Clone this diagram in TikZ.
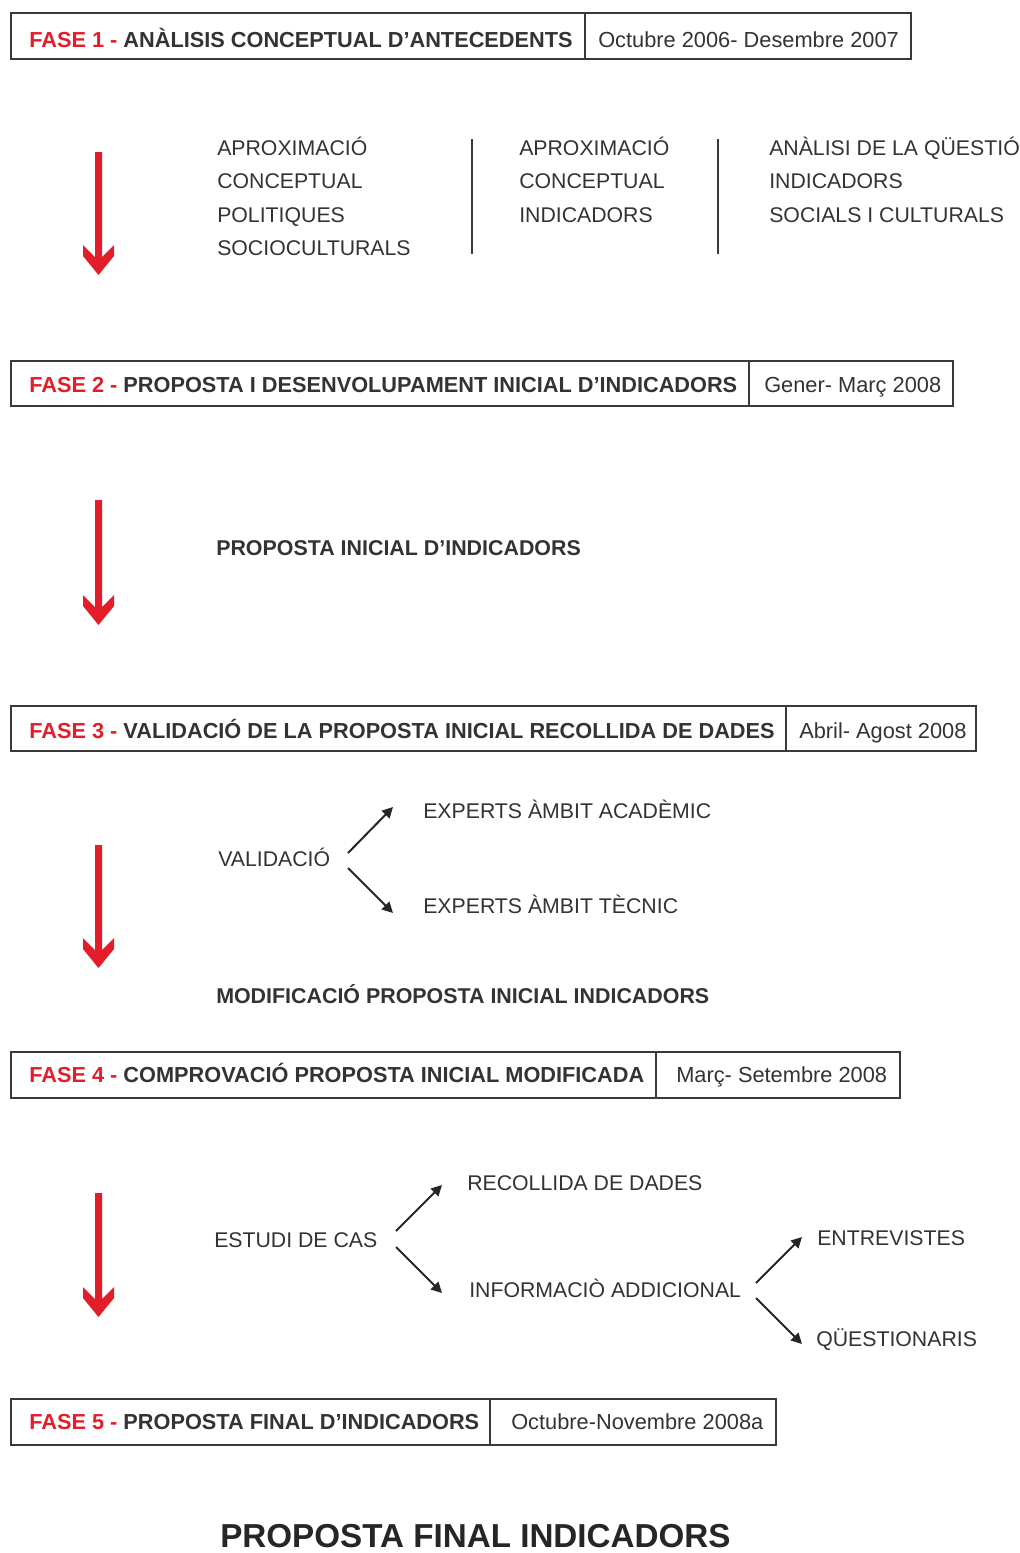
\documentclass[tikz,border=0pt]{standalone}
\usepackage{fontspec}
\setmainfont{Liberation Sans}
\usetikzlibrary{arrows.meta}
\definecolor{flowred}{HTML}{E31E2A}
\definecolor{ink}{HTML}{333333}
\definecolor{rulecol}{HTML}{3A3A3A}

% thick red downward arrow with a notched head: x centre, top, tip
\newcommand\phasearrow[3]{%
  \fill[flowred] (#1-3.5,#2) -- (#1+3.5,#2) -- (#1+3.5,#3-18) -- (#1+15.5,#3-30)
    -- (#1+15.5,#3-19) -- (#1,#3) -- (#1-15.5,#3-19) -- (#1-15.5,#3-30)
    -- (#1-3.5,#3-18) -- cycle;}

\begin{document}
\begin{tikzpicture}[x=0.75pt,y=-0.75pt,
  txt/.style={anchor=base west, inner sep=0pt, text=ink, font=\fontsize{15.95}{19}\selectfont},
  boldtxt/.style={anchor=base west, inner sep=0pt, text=ink, font=\fontsize{16.05}{19}\selectfont\bfseries},
  head/.style={anchor=base west, inner sep=0pt, text=ink, font=\fontsize{16.3}{19}\selectfont\bfseries},
  datetxt/.style={anchor=base west, inner sep=0pt, text=ink, font=\fontsize{16.35}{19}\selectfont},
  title/.style={anchor=base west, inner sep=0pt, text=black!85, font=\fontsize{24.9}{28}\selectfont\bfseries},
  cellbox/.style={draw=rulecol, line width=1.5pt},
  sepline/.style={draw=rulecol, line width=1.5pt},
  branch/.style={draw=black!85, line width=1.5pt, -{Triangle[length=8pt,width=8pt]}},
]
\fill[white] (0,0) rectangle (1020,1553);
\useasboundingbox (0,0) rectangle (1020,1553);

% ---------- phase header boxes ----------
\draw[cellbox] (11,13) rectangle (911,59);
\draw[sepline] (585,13) -- (585,59);
\node[head] (f1) at (29,47) {\textcolor{flowred}{FASE 1 -} ANÀLISIS CONCEPTUAL D’ANTECEDENTS};
\node[datetxt] (d1) at (598,47) {Octubre 2006- Desembre 2007};

\draw[cellbox] (11,361) rectangle (953,406);
\draw[sepline] (749,361) -- (749,406);
\node[head] (f2) at (29,392) {\textcolor{flowred}{FASE 2 -} PROPOSTA I DESENVOLUPAMENT INICIAL D’INDICADORS};
\node[datetxt] (d2) at (764,392) {Gener- Març 2008};

\draw[cellbox] (11,706) rectangle (976,751);
\draw[sepline] (786,706) -- (786,751);
\node[head] (f3) at (29,738) {\textcolor{flowred}{FASE 3 -} VALIDACIÓ DE LA PROPOSTA INICIAL RECOLLIDA DE DADES};
\node[datetxt] (d3) at (799,738) {Abril- Agost 2008};

\draw[cellbox] (11,1052) rectangle (900,1098);
\draw[sepline] (656,1052) -- (656,1098);
\node[head] (f4) at (29,1082) {\textcolor{flowred}{FASE 4 -} COMPROVACIÓ PROPOSTA INICIAL MODIFICADA};
\node[datetxt] (d4) at (676,1082) {Març- Setembre 2008};

\draw[cellbox] (11,1399) rectangle (776,1445);
\draw[sepline] (490,1399) -- (490,1445);
\node[head] (f5) at (29,1429) {\textcolor{flowred}{FASE 5 -} PROPOSTA FINAL D’INDICADORS};
\node[datetxt] (d5) at (511,1429) {Octubre-Novembre 2008a};

% ---------- red flow arrows ----------
\phasearrow{98.5}{152}{275}
\phasearrow{98.5}{500}{625}
\phasearrow{98.5}{845}{968}
\phasearrow{98.5}{1193}{1317}

% ---------- phase 1 ----------
\node[txt] (c1a) at (217,155) {APROXIMACIÓ};
\node[txt] (c1b) at (217,188.5) {CONCEPTUAL};
\node[txt] (c1c) at (217,222) {POLITIQUES};
\node[txt] (c1d) at (217,255) {SOCIOCULTURALS};
\draw[sepline] (472,139) -- (472,254);
\node[txt] (c2a) at (519,155) {APROXIMACIÓ};
\node[txt] (c2b) at (519,188.5) {CONCEPTUAL};
\node[txt] (c2c) at (519,222) {INDICADORS};
\draw[sepline] (718,139) -- (718,254);
\node[txt] (c3a) at (769,155) {ANÀLISI DE LA QÜESTIÓ};
\node[txt] (c3b) at (769,188.5) {INDICADORS};
\node[txt] (c3c) at (769,222) {SOCIALS I CULTURALS};

% ---------- phase 2 ----------
\node[boldtxt] (p2) at (216,555) {PROPOSTA INICIAL D’INDICADORS};

% ---------- phase 3 ----------
\node[txt] (val) at (218,866) {VALIDACIÓ};
\node[txt] (acad) at (423,818) {EXPERTS ÀMBIT ACADÈMIC};
\node[txt] (tecn) at (423,913) {EXPERTS ÀMBIT TÈCNIC};
\coordinate (valup) at (348,853);
\coordinate (valdn) at (348,868);
\coordinate (acadin) at (393,807);
\coordinate (tecnin) at (393,913);
\draw[branch] (valup) -- (acadin);
\draw[branch] (valdn) -- (tecnin);
\node[boldtxt] (modif) at (216,1003) {MODIFICACIÓ PROPOSTA INICIAL INDICADORS};

% ---------- phase 4 ----------
\node[txt] (cas) at (214,1247) {ESTUDI DE CAS};
\node[txt] (recol) at (467,1190) {RECOLLIDA DE DADES};
\node[txt] (info) at (469,1297) {INFORMACIÒ ADDICIONAL};
\node[txt] (entr) at (817,1245) {ENTREVISTES};
\node[txt] (qest) at (816,1346) {QÜESTIONARIS};
\coordinate (casup) at (396,1231);
\coordinate (casdn) at (396,1247);
\coordinate (recolin) at (442,1185);
\coordinate (infoin) at (442,1293);
\coordinate (infoup) at (756,1283);
\coordinate (infodn) at (756,1298);
\coordinate (entrin) at (802,1237);
\coordinate (qestin) at (802,1344);
\draw[branch] (casup) -- (recolin);
\draw[branch] (casdn) -- (infoin);
\draw[branch] (infoup) -- (entrin);
\draw[branch] (infodn) -- (qestin);

% ---------- result ----------
\node[title] (final) at (220,1547) {PROPOSTA FINAL INDICADORS};
\end{tikzpicture}
\end{document}
